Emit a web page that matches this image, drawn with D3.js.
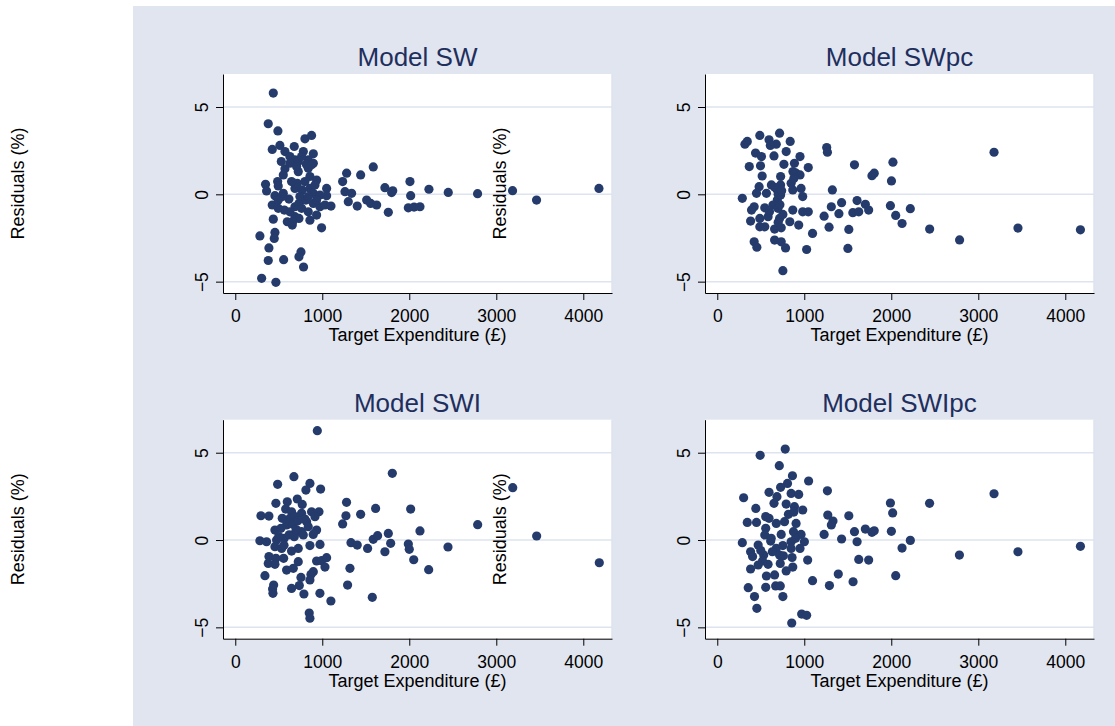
<!DOCTYPE html>
<html><head><meta charset="utf-8">
<script src="https://cdn.jsdelivr.net/npm/d3@7"></script>
<style>body{margin:0;background:#fff}svg{display:block}text{font-family:Arial,"Liberation Sans",sans-serif}</style>
</head><body><svg id="c" width="1115" height="726"></svg>
<script>
const titles = ["Model SW", "Model SWpc", "Model SWI", "Model SWIpc"];
const xTicks = [0, 1000, 2000, 3000, 4000];
const yTicks = [-5, 0, 5];
const xTitle = "Target Expenditure (£)";
const yTitle = "Residuals (%)";

const sw = [[437,5.8],[379,4.04],[490,3.63],[425,2.57],[513,2.8],[571,2.45],[678,2.74],[628,2.16],[686,1.97],[801,3.18],[877,3.37],[782,2.45],[897,2.32],[839,1.97],[897,1.78],[724,1.88],[571,1.46],[552,1.11],[724,1.3],[839,1.49],[858,1.02],[935,0.82],[348,0.57],[360,0.19],[487,0.73],[494,0.48],[456,-0.08],[552,0.06],[617,-0.27],[686,0.34],[713,0.63],[770,0.25],[858,0.34],[897,0.06],[973,-0.04],[1050,0.34],[1050,-0.08],[425,-0.61],[494,-0.8],[564,-0.9],[686,-0.71],[732,-0.52],[812,-0.33],[897,-0.52],[973,-0.71],[1031,-0.61],[1100,-0.67],[437,-1.42],[598,-1.57],[655,-1.76],[686,-1.28],[732,-1.38],[858,-1.48],[935,-1.19],[992,-1.92],[283,-2.38],[456,-2.18],[448,-2.53],[387,-3.07],[379,-3.79],[556,-3.74],[755,-3.3],[732,-3.58],[785,-4.16],[303,-4.81],[467,-5.04],
[628,1.78],[762,2.16],[816,1.72],[647,0.73],[801,0.73],[916,0.54],[743,-0.13],[839,-0.13],[935,-0.33],[628,-1.0],[762,-0.8],[839,-1.0],[659,-1.57],[540,-0.13],[494,-0.33],[529,1.88],[877,1.69],[705,1.59],
[1234,0.73],[1280,1.21],[1261,0.15],[1337,0.06],[1299,-0.42],[1402,-0.67],[1441,1.11],[1586,1.57],[1510,-0.33],[1556,-0.52],[1625,-0.61],[1720,0.38],[1797,0.1],[1810,0.2],[1759,-1.03],[2008,0.73],[2016,-0.08],[1989,-0.77],[2055,-0.73],[2123,-0.71],[2226,0.29],[2448,0.11],[2785,0.04],[3187,0.21],[3463,-0.33],[4180,0.34]];

const swpc = [[318,2.87],[345,3.03],[489,3.37],[595,3.12],[716,3.5],[678,2.87],[610,2.8],[838,3.03],[792,2.45],[440,2.36],[508,2.16],[652,2.2],[951,2.16],[368,1.59],[497,1.63],[766,1.72],[887,1.78],[1046,1.53],[906,1.21],[516,1.05],[728,1.02],[951,1.11],[481,0.44],[451,0.06],[565,0.06],[622,0.54],[690,0.25],[728,0.54],[849,0.63],[868,0.25],[963,0.34],[982,-0.13],[288,-0.23],[690,-0.33],[728,-0.04],[424,-0.71],[394,-0.9],[546,-0.77],[640,-0.61],[697,-0.8],[868,-0.9],[982,-1.0],[1046,-1.0],[383,-1.53],[489,-1.38],[584,-1.28],[716,-1.38],[754,-1.15],[834,-1.57],[936,-1.76],[489,-1.86],[546,-1.86],[659,-1.99],[735,-1.92],[1095,-2.24],[424,-2.72],[455,-3.03],[659,-2.62],[735,-2.72],[785,-3.07],[1027,-3.16],[754,-4.37],
[700,0.0],[720,-0.6],[870,1.3],[880,0.9],[660,0.4],[600,-1.0],[700,-1.6],[740,0.2],
[1258,2.68],[1266,2.41],[1323,0.25],[1228,-1.25],[1311,-0.71],[1285,-1.88],[1429,-0.48],[1398,-1.11],[1577,1.69],[1607,-0.36],[1558,-1.05],[1626,-1.0],[1512,-2.01],[1501,-3.1],[1702,-0.57],[1740,-0.9],[1778,1.07],[1804,1.21],[2019,1.84],[2002,0.77],[1990,-0.65],[2051,-1.21],[2124,-1.67],[2219,-0.82],[2441,-1.99],[2785,-2.61],[3181,2.41],[3456,-1.93],[4174,-2.03]];

const swi = [[943,6.26],[487,3.19],[674,3.63],[858,3.24],[812,2.86],[981,2.92],[467,2.1],[598,2.19],[713,2.35],[770,2.04],[579,1.77],[647,1.62],[762,1.53],[877,1.62],[962,1.62],[295,1.39],[387,1.37],[540,1.24],[628,1.24],[686,1.34],[820,1.05],[916,1.34],[456,0.57],[525,0.67],[590,0.86],[686,0.38],[762,0.48],[839,0.76],[935,0.57],[283,-0.04],[360,-0.1],[475,0],[563,0.1],[678,0.19],[782,0.29],[896,0.32],[456,-0.38],[533,-0.48],[647,-0.63],[724,-0.48],[858,-0.32],[974,-0.25],[387,-0.95],[467,-1.05],[556,-1.05],[379,-1.34],[456,-1.39],[724,-1.24],[935,-1.2],[992,-1.18],[1050,-1.01],[1031,-1.55],[590,-1.72],[667,-1.62],[897,-1.81],[870,-1.97],[341,-2.04],[755,-2.14],[858,-2.29],[441,-2.58],[429,-2.81],[433,-3.05],[647,-2.77],[736,-2.61],[789,-3.09],[973,-3.05],[1099,-3.49],[850,-4.18],[858,-4.48],
[600,1.0],[660,0.9],[720,1.1],[800,1.2],[700,0.6],[620,0.3],[500,0.2],[560,-0.3],
[1279,2.16],[1272,1.39],[1234,0.92],[1441,1.47],[1613,1.81],[1805,3.82],[1330,-0.15],[1402,-0.29],[1521,-0.48],[1586,0.04],[1636,0.25],[1759,0.38],[1786,-0.19],[1720,-0.67],[1318,-1.62],[1291,-2.58],[1575,-3.28],[2016,1.77],[2123,0.52],[1989,-0.23],[2000,-0.53],[2051,-1.13],[2223,-1.7],[2445,-0.4],[2786,0.88],[3189,3.0],[3464,0.23],[4184,-1.3]];

const swipc = [[781,5.21],[493,4.85],[713,4.26],[864,3.68],[1050,3.38],[807,3.24],[728,3.02],[595,2.73],[686,2.48],[849,2.67],[936,2.61],[303,2.42],[652,2.1],[792,2.06],[887,1.91],[982,1.72],[443,1.81],[818,1.47],[557,1.34],[595,1.24],[451,1.01],[345,1.01],[678,0.95],[773,1.05],[906,0.95],[557,0.67],[546,0.29],[735,0.32],[876,0.48],[963,0.32],[288,-0.15],[470,-0.29],[614,-0.06],[678,-0.48],[754,-0.32],[849,-0.1],[1001,-0.1],[383,-0.67],[406,-0.95],[534,-0.86],[633,-0.67],[716,-0.86],[849,-0.48],[951,-0.48],[1039,-1.15],[383,-1.66],[470,-1.43],[584,-1.39],[724,-1.34],[792,-1.77],[868,-1.55],[565,-2.06],[659,-2.0],[1095,-2.33],[356,-2.73],[557,-2.71],[671,-2.63],[724,-2.63],[428,-3.24],[754,-3.24],[455,-3.91],[970,-4.24],[1027,-4.31],[856,-4.75],
[880,1.6],[900,0.1],[500,-0.6],[620,0.1],[760,-0.9],[860,-1.0],[520,-1.2],
[1266,2.82],[1270,1.43],[1330,1.09],[1311,0.86],[1228,0.32],[1429,0.06],[1512,1.39],[1577,0.48],[1607,-0.1],[1391,-1.95],[1289,-2.61],[1561,-2.39],[1626,-1.11],[1740,-1.15],[1702,0.63],[1778,0.44],[1804,0.53],[1990,2.12],[2016,1.55],[2001,0.5],[2051,-2.04],[2124,-0.46],[2219,-0.02],[2440,2.1],[2783,-0.86],[3181,2.65],[3456,-0.67],[4174,-0.36]];

const datasets = [sw, swpc, swi, swipc];

const svg = d3.select("#c");
svg.append("rect").attr("x", 133).attr("y", 6).attr("width", 982).attr("height", 720).attr("fill", "#e1e5ef");

const PW = 389, PH = 219;
const gridCol = "#dde3ef", dotCol = "#243b6c", titleCol = "#1e2f5e";

datasets.forEach((data, i) => {
  const col = i % 2, row = Math.floor(i / 2);
  const ox = 223 + col * 482, oy = 74 + row * 345.7;
  const x = d3.scaleLinear().domain([-141, 4330]).range([ox, ox + PW]);
  const y = d3.scaleLinear().domain([-5.65, 6.89]).range([oy + PH, oy]);
  const g = svg.append("g");

  g.append("rect").attr("x", ox).attr("y", oy).attr("width", PW).attr("height", PH).attr("fill", "#fff");
  g.append("line").attr("x1", ox + PW).attr("x2", ox + PW).attr("y1", oy).attr("y2", oy + PH)
    .attr("stroke", gridCol).attr("stroke-width", 1.5);
  g.selectAll(".grid").data(yTicks).join("line")
    .attr("x1", ox).attr("x2", ox + PW).attr("y1", d => y(d)).attr("y2", d => y(d))
    .attr("stroke", gridCol).attr("stroke-width", 1.5);

  g.selectAll("circle").data(data).join("circle")
    .attr("cx", d => x(d[0])).attr("cy", d => y(d[1])).attr("r", 4.6).attr("fill", dotCol);

  const ya = g.append("g").attr("transform", `translate(${ox},0)`)
    .call(d3.axisLeft(y).tickValues(yTicks).tickSize(7).tickSizeOuter(0).tickFormat(d3.format("d")));
  ya.select(".domain").attr("stroke", "#000");
  ya.selectAll(".tick line").attr("stroke", "#000");
  ya.selectAll("text").attr("x", 0).attr("y", -15).attr("dy", 0).attr("text-anchor", "middle")
    .attr("transform", "rotate(-90)").attr("font-size", 17.5).attr("fill", "#000")
    .attr("font-family", "Arial, 'Liberation Sans', sans-serif");

  const xa = g.append("g").attr("transform", `translate(0,${oy + PH})`)
    .call(d3.axisBottom(x).tickValues(xTicks).tickSize(7).tickSizeOuter(0).tickPadding(9.5).tickFormat(d3.format("d")));
  xa.select(".domain").attr("stroke", "#000");
  xa.selectAll(".tick line").attr("stroke", "#000");
  xa.selectAll("text").attr("font-size", 17.5).attr("fill", "#000")
    .attr("font-family", "Arial, 'Liberation Sans', sans-serif");

  g.append("text").attr("x", ox + PW / 2).attr("y", oy + PH + 48).attr("text-anchor", "middle")
    .attr("font-size", 18).attr("fill", "#000").text(xTitle);
  g.append("text").attr("transform", `translate(${ox - 199},${oy + PH / 2}) rotate(-90)`)
    .attr("text-anchor", "middle").attr("font-size", 18).attr("fill", "#000").text(yTitle);
  g.append("text").attr("x", ox + PW / 2).attr("y", oy - 8).attr("text-anchor", "middle")
    .attr("font-size", 26).attr("fill", titleCol).text(titles[i]);
});
</script></body></html>
